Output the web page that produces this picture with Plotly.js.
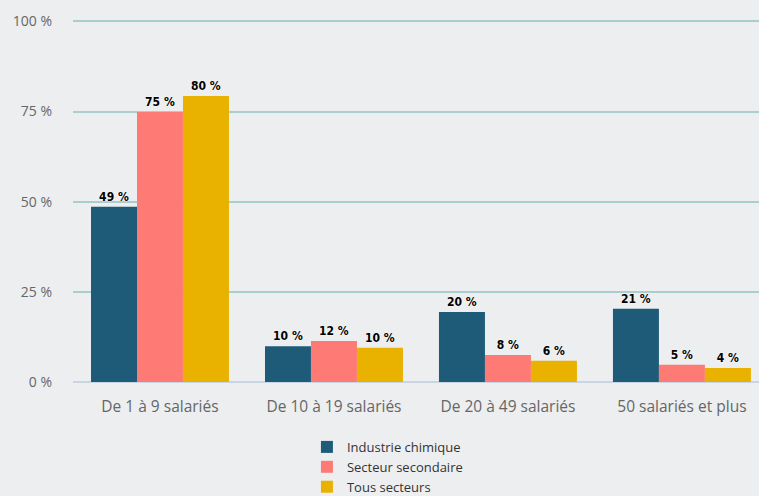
<!DOCTYPE html>
<html>
<head>
<meta charset="utf-8">
<script src="https://cdn.plot.ly/plotly-3.0.1.min.js"></script>
<style>html,body{margin:0;padding:0;background:#edeef0;}</style>
</head>
<body>
<div id="chart" style="width:759px;height:496px;"></div>
<script>
const categories = ["De 1 à 9 salariés", "De 10 à 19 salariés", "De 20 à 49 salariés", "50 salariés et plus"];
const industrieChimique = [48.6, 9.9, 19.4, 20.3];
const secteurSecondaire = [74.9, 11.4, 7.5, 4.8];
const tousSecteurs = [79.3, 9.5, 5.9, 3.9];
const labelsIndustrie = ["49 %", "10 %", "20 %", "21 %"];
const labelsSecondaire = ["75 %", "12 %", "8 %", "5 %"];
const labelsTous = ["80 %", "10 %", "6 %", "4 %"];
const seriesNames = ["Industrie chimique", "Secteur secondaire", "Tous secteurs"];
const colors = ["#1e5b78", "#fe7a74", "#e9b200"];
const yTickVals = [0, 25, 50, 75, 100];
const yTickText = ["0 %", "25 %", "50 %", "75 %", "100 %"];

const valueSets = [industrieChimique, secteurSecondaire, tousSecteurs];
const labelSets = [labelsIndustrie, labelsSecondaire, labelsTous];

const traces = valueSets.map((vals, i) => ({
  type: "bar",
  name: seriesNames[i],
  x: categories,
  y: vals,
  text: labelSets[i],
  textposition: "outside",
  cliponaxis: false,
  textfont: {family: "DejaVu Sans Condensed, DejaVu Sans", size: 12, color: "#000", weight: "bold", shadow: "0 0 2px #fff"},
  marker: {color: colors[i]},
  hoverinfo: "none"
}));

const layout = {
  width: 759,
  height: 496,
  paper_bgcolor: "#edeef0",
  plot_bgcolor: "#edeef0",
  margin: {l: 73, r: 0, t: 20, b: 114, autoexpand: false},
  barmode: "group",
  bargap: 0.207,
  bargroupgap: 0,
  showlegend: true,
  legend: {
    x: 0.341, xanchor: "left",
    y: -0.138, yanchor: "top",
    orientation: "v",
    font: {family: "Open Sans", size: 13, color: "#333"},
    tracegroupgap: 0,
    itemwidth: 30
  },
  xaxis: {
    range: [-0.5, 3.443],
    showgrid: false,
    zeroline: false,
    showline: false,
    ticks: "",
    tickfont: {family: "Open Sans", size: 15.5, color: "#666"},
    ticklabelstandoff: 13
  },
  yaxis: {
    range: [0, 100.4],
    tickmode: "array",
    tickvals: yTickVals,
    ticktext: yTickText,
    showgrid: true,
    gridcolor: "#a9cece",
    gridwidth: 2,
    zeroline: true,
    zerolinecolor: "#c9d5e3",
    zerolinewidth: 2,
    showline: false,
    ticks: "",
    tickfont: {family: "Open Sans", size: 14, color: "#666"},
    ticklabelstandoff: 20
  }
};

Plotly.newPlot("chart", traces, layout, {displayModeBar: false, staticPlot: true});
</script>
</body>
</html>
